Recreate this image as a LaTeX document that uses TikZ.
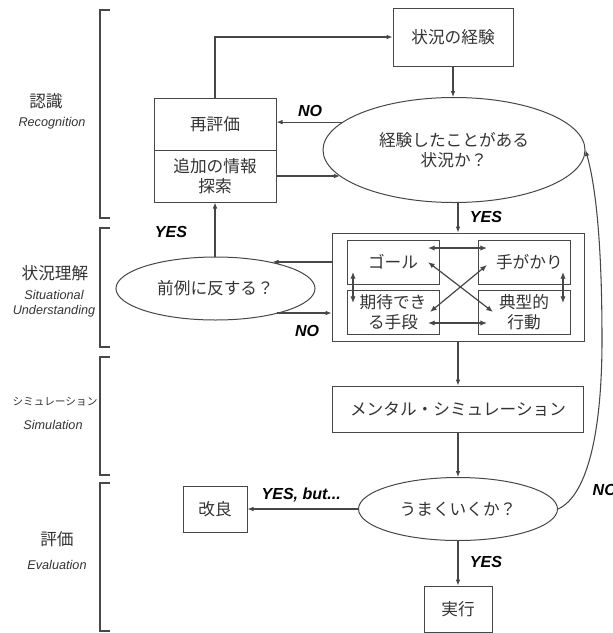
\documentclass[tikz,border=0pt]{standalone}
\usepackage{fontspec}
\setmainfont{Liberation Sans}
\newfontfamily\jp{Noto Sans CJK JP}
\usetikzlibrary{arrows.meta,shapes.geometric,calc}
\definecolor{ln}{HTML}{474747}
\definecolor{tx}{HTML}{333333}
\begin{document}
\begin{tikzpicture}[x=0.75pt,y=-0.75pt,
  every node/.style={text=tx},
  box/.style={draw=ln,line width=0.75pt,rectangle,inner sep=0pt,font=\jp\fontsize{12.5}{15}\selectfont,align=center},
  oval/.style={draw=ln,line width=0.75pt,ellipse,inner sep=0pt,font=\jp\fontsize{12.5}{15}\selectfont,align=center},
  arr/.style={draw=ln,line width=0.8pt,-{Latex[length=4.5pt,width=3.5pt]}},
  darr/.style={draw=ln,line width=0.9pt,{Latex[length=5pt,width=4pt]}-{Latex[length=5pt,width=4pt]}},
  yn/.style={font=\bfseries\itshape\fontsize{12}{14}\selectfont,text=black},
  brk/.style={draw=ln,line width=0.9pt},
  catjp/.style={font=\jp\fontsize{12.5}{15}\selectfont},
  catjps/.style={font=\jp\fontsize{8}{10}\selectfont},
  caten/.style={font=\itshape\fontsize{9.5}{11.5}\selectfont,align=center}
]
\useasboundingbox (0,0) rectangle (613,633);

% brackets
\draw[brk] (110,10) -- (100,10) -- (100,218) -- (110,218);
\draw[brk] (110,228) -- (100,228) -- (100,347) -- (110,347);
\draw[brk] (110,357) -- (100,357) -- (100,475) -- (110,475);
\draw[brk] (110,483) -- (100,483) -- (100,631) -- (110,631);

% category labels
\node[catjp] (c1) at (46,101) {認識};
\node[caten] (c1e) at (52,123) {Recognition};
\node[catjp] (c2) at (55,273) {状況理解};
\node[caten] (c2e) at (54,304) {Situational\\Understanding};
\node[catjps] (c3) at (55,402) {シミュレーション};
\node[caten] (c3e) at (53,425) {Simulation};
\node[catjp] (c4) at (57,539) {評価};
\node[caten] (c4e) at (57,565) {Evaluation};

% main nodes
\node[box,minimum width=90pt,minimum height=43.5pt] (exp) at (453,37) {状況の経験};
\node[oval,minimum width=196.5pt,minimum height=78.75pt] (q1) at (454,150) {経験したことがある\\状況か？};
\node[box,minimum width=91.5pt,minimum height=39pt] (re) at (215,124) {再評価};
\node[box,minimum width=91.5pt,minimum height=39pt] (add) at (215,176) {追加の情報\\探索};
\node[box,minimum width=189pt,minimum height=81pt] (big) at (458,287) {};
\node[box,minimum width=69pt,minimum height=33pt] (goal) at (393,262) {ゴール};
\node[box,minimum width=69pt,minimum height=33pt] (cue) at (524,262) {\hspace*{8pt}手がかり};
\node[box,minimum width=69pt,minimum height=33pt] (means) at (393,312) {期待でき\\る手段};
\node[box,minimum width=69pt,minimum height=33pt] (typ) at (524,312) {典型的\\行動};
\node[oval,minimum width=149.25pt,minimum height=47.25pt] (prec) at (215.5,288.5) {前例に反する？};
\node[box,minimum width=188.25pt,minimum height=34.5pt] (ment) at (458,409) {メンタル・シミュレーション};
\node[oval,minimum width=149.25pt,minimum height=47.25pt] (q2) at (458,509) {うまくいくか？};
\node[box,minimum width=48pt,minimum height=34.5pt] (imp) at (215,509) {改良};
\node[box,minimum width=51pt,minimum height=34.5pt] (exe) at (458,609) {実行};

% connectors
\draw[arr] (re.north) |- (exp.west);
\draw[arr] (exp.south) -- (exp.south |- q1.north);
\draw[arr] (q1.166) -- (q1.166 -| re.east);
\draw[arr] (add.east) -- (q1.193 |- add.east);
\draw[arr] (q1.south -| big.north) -- (big.north);
\draw[arr] (big.west |- 0,262) -- ($(prec.center)+(57,-26.5)$);
\draw[arr] ($(prec.center)+(61,24.5)$) -- (big.west |- 0,313);
\draw[arr] (prec.north -| add.south) -- (add.south);
\draw[arr] (big.south) -- (ment.north);
\draw[arr] (ment.south) -- (q2.north);
\draw[arr] (q2.west) -- (imp.east);
\draw[arr] (q2.south) -- (exe.north);
\draw[arr] (q2.east) .. controls (585,497) and (602,440) .. (602,340) .. controls (602,230) and (594,180) .. (q1.east);

% inner double arrows
\coordinate (g1) at (428,248); \coordinate (c1a) at (487,248);
\draw[darr] (g1) -- (c1a);
\coordinate (m1) at (428,323); \coordinate (t1) at (487,323);
\draw[darr] (m1) -- (t1);
\coordinate (g2) at (353,272); \coordinate (m2) at (353,303);
\draw[darr] (g2) -- (m2);
\coordinate (cu2) at (563,272); \coordinate (ty2) at (563,303);
\draw[darr] (cu2) -- (ty2);
\coordinate (g3) at (428,262); \coordinate (t3) at (493,312);
\draw[darr] (g3) -- (t3);
\coordinate (cu3) at (487,265); \coordinate (m3) at (430,312);
\draw[darr] (cu3) -- (m3);

% labels
\node[yn] (lno1) at (310,111) {NO};
\node[yn] (lyes1) at (486,217) {YES};
\node[yn] (lyes2) at (171,232) {YES};
\node[yn] (lno2) at (307,331) {NO};
\node[yn,anchor=west] (lyb) at (257,495) {YES, but...};
\node[yn,anchor=west] (lno3) at (588,490) {NO};
\node[yn] (lyes3) at (486,562) {YES};
\end{tikzpicture}
\end{document}
